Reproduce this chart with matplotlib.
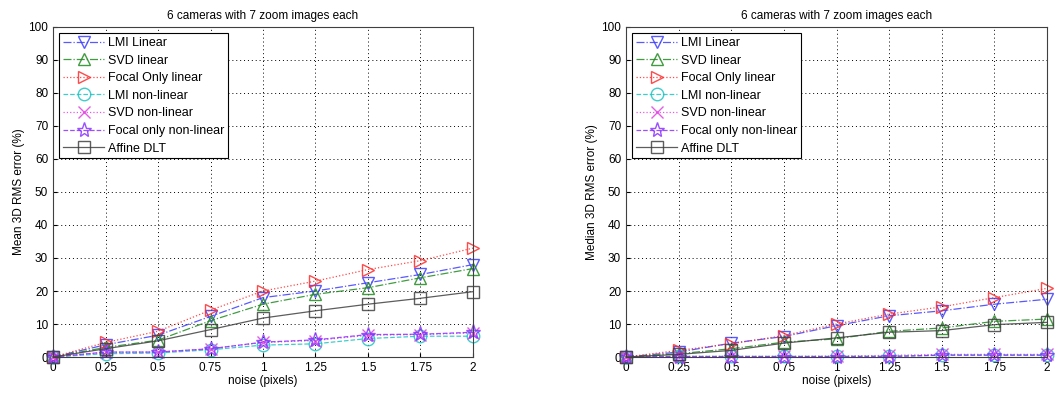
import matplotlib
matplotlib.use("Agg")
import matplotlib.pyplot as plt
import numpy as np

plt.rcParams['font.family'] = ['Liberation Sans', 'DejaVu Sans']

noise = [0, 0.25, 0.5, 0.75, 1, 1.25, 1.5, 1.75, 2]
labels = ["LMI Linear", "SVD linear", "Focal Only linear", "LMI non-linear",
          "SVD non-linear", "Focal only non-linear", "Affine DLT"]

# Mean 3D RMS error (%)
mean_lmi_lin = [0, 3.7, 6.6, 12.3, 18, 20, 22.5, 25, 28]
mean_svd_lin = [0, 2.9, 5.1, 11, 16, 19, 21, 24, 26.8]
mean_focal_lin = [0, 4.4, 7.8, 14.2, 20, 23, 26.5, 29.2, 33]
mean_lmi_nl = [0, 1.0, 1.2, 2.2, 3.6, 4.0, 5.6, 6.3, 6.3]
mean_svd_nl = [0, 1.4, 1.5, 2.5, 4.4, 5.0, 6.6, 6.8, 7.3]
mean_focal_nl = [0, 1.5, 1.5, 2.5, 4.5, 5.2, 6.8, 6.9, 7.5]
mean_affine = [0, 2.5, 4.9, 8.3, 11.8, 14, 16, 17.8, 19.8]

# Median 3D RMS error (%)
med_lmi_lin = [0, 1.5, 4.2, 6.2, 9.5, 12.5, 14, 16, 17.5]
med_svd_lin = [0, 1.0, 2.5, 4.5, 5.5, 7.8, 8.8, 10.8, 11.5]
med_focal_lin = [0, 2.0, 4.0, 6.5, 10, 13, 15.2, 18, 20.8]
med_lmi_nl = [0, 0.2, 0.2, 0.2, 0.2, 0.3, 0.5, 0.5, 0.5]
med_svd_nl = [0, 0.2, 0.2, 0.2, 0.3, 0.5, 0.8, 0.8, 0.8]
med_focal_nl = [0, 0.1, 0.1, 0.1, 0.1, 0.1, 0.6, 0.6, 0.6]
med_affine = [0, 0.8, 2.0, 4.2, 5.8, 7.5, 8.0, 9.8, 10.5]

styles = [
    dict(color='#3c3cff', ls='-.', marker='v'),
    dict(color='#208a20', ls='-.', marker='^'),
    dict(color='#ff2a2a', ls=':', marker='>'),
    dict(color='#20c4c4', ls='--', marker='o'),
    dict(color='#e040e0', ls=':', marker='x'),
    dict(color='#8a30ff', ls='--', marker='*'),
    dict(color='#404040', ls='-', marker='s'),
]

fig = plt.figure(figsize=(10.56, 3.94), dpi=100)
ax1 = fig.add_axes([0.0502, 0.0939, 0.3977, 0.8376])
ax2 = fig.add_axes([0.5928, 0.0939, 0.3987, 0.8376])

datasets = [
    (ax1, [mean_lmi_lin, mean_svd_lin, mean_focal_lin, mean_lmi_nl, mean_svd_nl, mean_focal_nl, mean_affine],
     "Mean 3D RMS error (%)"),
    (ax2, [med_lmi_lin, med_svd_lin, med_focal_lin, med_lmi_nl, med_svd_nl, med_focal_nl, med_affine],
     "Median 3D RMS error (%)"),
]

for ax, series, ylab in datasets:
    for s, st, lab in zip(series, styles, labels):
        ms = 11 if st['marker'] == '*' else 9
        ax.plot(noise, s, color=st['color'], ls=st['ls'], marker=st['marker'],
                markersize=ms, markerfacecolor='none', markeredgecolor=st['color'],
                lw=0.9, alpha=0.85, label=lab, clip_on=False)
    ax.set_xlim(0, 2)
    ax.set_ylim(0, 100)
    ax.set_xticks(noise)
    ax.set_xticklabels(['0', '0.25', '0.5', '0.75', '1', '1.25', '1.5', '1.75', '2'])
    ax.set_yticks(np.arange(0, 101, 10))
    ax.grid(True, ls=(0, (1, 3)), color='black', lw=0.7)
    ax.tick_params(direction='in', labelsize=8.5, length=3)
    ax.set_title("6 cameras with 7 zoom images each", fontsize=8.5)
    ax.set_xlabel("noise (pixels)", fontsize=8.5, labelpad=1)
    ax.set_ylabel(ylab, fontsize=8.5, labelpad=2)
    for sp in ax.spines.values():
        sp.set_color('#404040')
    leg = ax.legend(loc='upper left', fontsize=9, frameon=True, fancybox=False,
                    edgecolor='black', framealpha=1, handlelength=3.3,
                    borderaxespad=0.5, labelspacing=0.45, handletextpad=0.3,
                    borderpad=0.3)
    leg.get_frame().set_linewidth(0.8)

fig.savefig("out.png", dpi=100)
